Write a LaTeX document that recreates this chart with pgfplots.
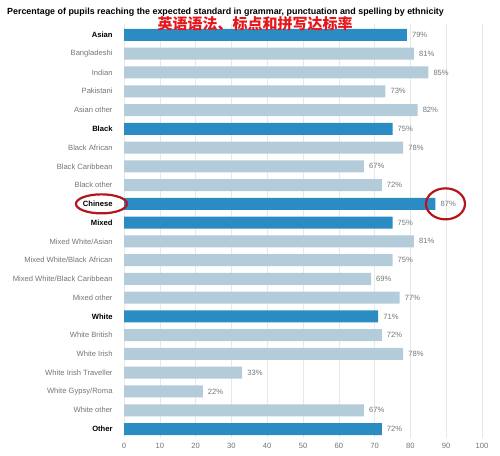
\documentclass[border=0pt]{standalone}
\usepackage{pgfplots}
\usepackage{pgfplotstable}
\pgfplotsset{compat=1.18}
\usepackage{fontspec}
\setmainfont{Liberation Sans}
\newfontfamily\cjk{Noto Sans CJK SC}
\definecolor{darkbar}{HTML}{2B8CC4}
\definecolor{lightbar}{HTML}{B4CBDA}
\definecolor{labgray}{HTML}{6F777B}
\definecolor{circred}{HTML}{B3171B}
\definecolor{cnred}{HTML}{E8161B}

% group totals (dark) and sub-groups (light), y = row index from the top
\pgfplotstableread{
y v
0 79
5 75
9 87
10 75
15 71
21 72
}\groups
\pgfplotstableread{
y v
1 81
2 85
3 73
4 82
6 78
7 67
8 72
11 81
12 75
13 69
14 77
16 72
17 78
18 33
19 22
20 67
}\subs

\begin{document}
\begin{tikzpicture}
\path[use as bounding box] (0,0) rectangle (500pt,-455pt);
\begin{axis}[
    at={(124pt,-23.7pt)}, anchor=north west,
    scale only axis, width=358pt, height=414.7pt,
    xbar, bar width=12pt, bar shift=0pt,
    xmin=0, xmax=100, ymin=-0.6, ymax=21.5, y dir=reverse,
    clip=false,
    /pgf/number format/assume math mode=true,
    axis line style={draw=none}, tick style={draw=none},
    xtick={0,10,...,100}, xmajorgrids, grid style={draw=gray!18},
    ytick={0,...,21},
    yticklabels={{\color{black}\bfseries Asian}, Bangladeshi, Indian, Pakistani, Asian other,
        {\color{black}\bfseries Black}, Black African, Black Caribbean, Black other,
        {\color{black}\bfseries Chinese},
        {\color{black}\bfseries Mixed}, Mixed White/Asian, Mixed White/Black African,
        Mixed White/Black Caribbean, Mixed other,
        {\color{black}\bfseries White}, White British, White Irish, White Irish Traveller,
        White Gypsy/Roma, White other,
        {\color{black}\bfseries Other}},
    tick label style={font=\fontsize{7.6}{9}\selectfont, text=labgray, inner sep=0pt},
    yticklabel style={xshift=-7pt},
    xticklabel style={yshift=-5pt},
    point meta=x,
    nodes near coords={\pgfmathprintnumber{\pgfplotspointmeta}\%},
    nodes near coords style={font=\fontsize{7.6}{9}\selectfont, text=labgray,
        anchor=west, inner sep=0pt, xshift=5pt},
]
\addplot[fill=darkbar, draw=none] table[x=v, y=y] {\groups};
\addplot[fill=lightbar, draw=none] table[x=v, y=y] {\subs};
\draw[circred, line width=2.2pt] (axis cs:-6.3,9) ellipse [x radius=25.5pt, y radius=9.5pt];
\draw[circred, line width=2.2pt] (axis cs:89.8,9) ellipse [x radius=19.5pt, y radius=15.5pt];
\end{axis}
\node[anchor=west, inner sep=0pt, font=\bfseries\fontsize{8.9}{10}\selectfont] at (7pt,-12pt)
    {Percentage of pupils reaching the expected standard in grammar, punctuation and spelling by ethnicity};
\node[font=\cjk\bfseries\fontsize{15}{18}\selectfont, text=cnred, inner sep=0pt] at (255pt,-24pt)
    {英语语法、标点和拼写达标率};
\end{tikzpicture}
\end{document}
